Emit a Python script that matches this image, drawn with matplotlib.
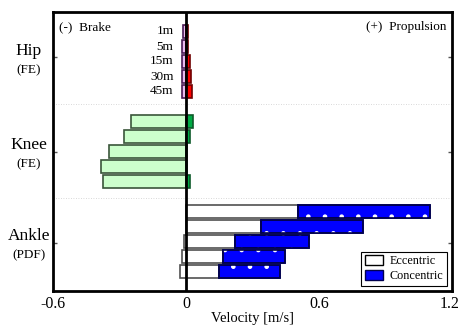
import matplotlib
matplotlib.use("Agg")
import matplotlib.pyplot as plt
from matplotlib.patches import Patch
import matplotlib.transforms as mtransforms
import numpy as np

plt.rcParams['font.family'] = ['Liberation Serif', 'DejaVu Serif']
plt.rcParams['hatch.linewidth'] = 0.9

# ---- data ----
speeds = ["1m", "5m", "15m", "30m", "45m"]
groups = ["Hip", "Knee", "Ankle"]
group_sub = ["(FE)", "(FE)", "(PDF)"]

# eccentric bar start, eccentric end (= concentric start), concentric end [m/s]
hip_ecc_start = [-0.015, -0.018, -0.017, -0.017, -0.019]
hip_ecc_end = [0.0, 0.0, 0.0, 0.0, 0.0]
hip_con_end = [0.010, 0.008, 0.016, 0.020, 0.025]

knee_ecc_start = [-0.248, -0.283, -0.348, -0.384, -0.376]
knee_ecc_end = [0.0, 0.0, 0.0, 0.0, 0.0]
knee_con_end = [0.030, 0.015, 0.002, 0.002, 0.015]

ankle_ecc_start = [-0.003, -0.003, -0.011, -0.018, -0.030]
ankle_ecc_end = [0.503, 0.337, 0.220, 0.166, 0.150]
ankle_con_end = [1.099, 0.797, 0.553, 0.447, 0.423]

xticks = [-0.6, 0, 0.6, 1.2]
xtick_labels = ["-0.6", "0", "0.6", "1.2"]

# ---- figure ----
fig = plt.figure(figsize=(4.6, 3.28), dpi=100)
ax = fig.add_axes([53.3 / 460, 37 / 328, 398.7 / 460, 279 / 328])

bar_h = 0.84
group_data = [
    (hip_ecc_start, hip_ecc_end, hip_con_end,
     dict(facecolor='#eab8ee', edgecolor='#4a1a55'),
     dict(facecolor='#ff0000', edgecolor='#700000'), False),
    (knee_ecc_start, knee_ecc_end, knee_con_end,
     dict(facecolor='#ccffcc', edgecolor='#3a553a'),
     dict(facecolor='#00aa44', edgecolor='#0d5a2a'), False),
    (ankle_ecc_start, ankle_ecc_end, ankle_con_end,
     dict(facecolor='white', edgecolor='#505050'),
     dict(facecolor='#0000ff', edgecolor='#000050'), True),
]

group_offsets = [0, 6, 12]
for g, (es, ee, ce, ecc_style, con_style, dotted) in enumerate(group_data):
    y = np.arange(len(speeds)) + group_offsets[g]
    es = np.array(es); ee = np.array(ee); ce = np.array(ce)
    ax.barh(y, ee - es, left=es, height=bar_h, linewidth=1.2, zorder=3, **ecc_style)
    ax.barh(y, ce - ee, left=ee, height=bar_h, linewidth=1.2, zorder=3, **con_style)
    if dotted:
        ax.barh(y, ce - ee, left=ee, height=bar_h, facecolor='none', edgecolor='white',
                hatch='.', linewidth=0, zorder=4)
        ax.barh(y, ce - ee, left=ee, height=bar_h, facecolor='none',
                edgecolor=con_style['edgecolor'], linewidth=1.2, zorder=4)

# speed labels near hip bars
for i, s in enumerate(speeds):
    ax.text(-0.057, i, s, ha='right', va='center', fontsize=9.5)

# zero line
ax.axvline(0, color='black', lw=2, zorder=6)

# separators
for yy in [4.85, 11.1]:
    ax.axhline(yy, color='#cccccc', lw=0.6, ls=(0, (1, 2)), zorder=1)

ax.set_xlim(-0.6, 1.2)
ax.set_ylim(17.3, -1.3)

tick_pos = [1.72, 8.0, 14.1]
ax.set_yticks(tick_pos)
ax.set_yticklabels([])
ax.tick_params(axis='y', direction='in', length=3, width=1, color='#555555', left=True, right=True)

ax.set_xticks(xticks)
ax.set_xticklabels(xtick_labels, fontsize=11.5)
ax.tick_params(axis='x', length=0, pad=3.5)
ax.set_xlabel("Velocity [m/s]", fontsize=10.5, labelpad=0)
# keep the last tick label inside the figure
last = ax.get_xticklabels()[-1]
last.set_horizontalalignment('right')
last.set_transform(last.get_transform() + mtransforms.ScaledTranslation(8 / 100, 0, fig.dpi_scale_trans))

for sp in ax.spines.values():
    sp.set_linewidth(2)

# group labels
trans = mtransforms.blended_transform_factory(ax.transAxes, ax.transData)
for g in range(3):
    ax.text(-0.061, tick_pos[g] - 0.45, groups[g], ha='center', va='center',
            fontsize=12.5, transform=trans, clip_on=False)
    ax.text(-0.061, tick_pos[g] + 0.85, group_sub[g], ha='center', va='center',
            fontsize=9.5, transform=trans, clip_on=False)

ax.text(0.015, 0.947, "(-)  Brake", transform=ax.transAxes, ha='left', va='center', fontsize=9.5)
ax.text(0.987, 0.947, "(+)  Propulsion", transform=ax.transAxes, ha='right', va='center', fontsize=9.5)

handles = [Patch(facecolor='white', edgecolor='black', linewidth=1),
           Patch(facecolor='#0000ff', edgecolor='#000050', linewidth=1)]
leg = ax.legend(handles, ["Eccentric", "Concentric"], loc='lower right',
                fontsize=8.7, frameon=True, fancybox=False, framealpha=1,
                edgecolor='black', borderaxespad=0.45, handlelength=1.5,
                handleheight=0.9, handletextpad=0.5, borderpad=0.3, labelspacing=0.2)
leg.get_frame().set_linewidth(0.8)
leg.set_zorder(10)

fig.savefig("out.png", dpi=100)
